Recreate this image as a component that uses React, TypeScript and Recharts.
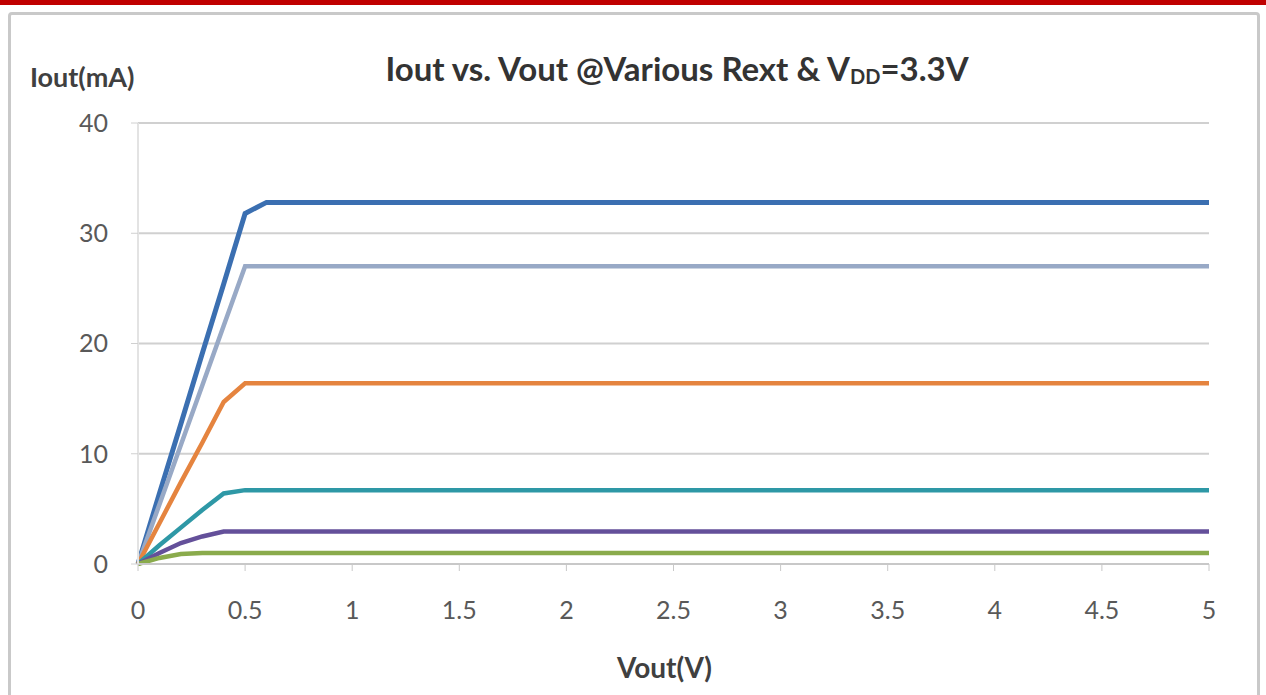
import { LineChart, Line, XAxis, YAxis, CartesianGrid } from 'recharts';

// Vout sample points (V)
const vout = [0, 0.1, 0.2, 0.3, 0.4, 0.5, 0.6, 1, 1.5, 2, 2.5, 3, 3.5, 4, 4.5, 5];

// Iout (mA) per Rext curve
const ioutA = [0, 6.4, 12.7, 19.1, 25.4, 31.8, 32.8, 32.8, 32.8, 32.8, 32.8, 32.8, 32.8, 32.8, 32.8, 32.8];
const ioutB = [0, 5.4, 10.8, 16.2, 21.6, 27.0, 27.0, 27.0, 27.0, 27.0, 27.0, 27.0, 27.0, 27.0, 27.0, 27.0];
const ioutC = [0, 3.7, 7.4, 11.0, 14.7, 16.4, 16.4, 16.4, 16.4, 16.4, 16.4, 16.4, 16.4, 16.4, 16.4, 16.4];
const ioutD = [0, 1.7, 3.3, 4.9, 6.4, 6.7, 6.7, 6.7, 6.7, 6.7, 6.7, 6.7, 6.7, 6.7, 6.7, 6.7];
const ioutE = [0, 1.0, 1.9, 2.5, 2.95, 2.95, 2.95, 2.95, 2.95, 2.95, 2.95, 2.95, 2.95, 2.95, 2.95, 2.95];
const ioutF = [0, 0.55, 0.9, 1.0, 1.0, 1.0, 1.0, 1.0, 1.0, 1.0, 1.0, 1.0, 1.0, 1.0, 1.0, 1.0];

const xTicks = [0, 0.5, 1, 1.5, 2, 2.5, 3, 3.5, 4, 4.5, 5];
const yTicks = [0, 10, 20, 30, 40];

const series = [
  { key: 'a', values: ioutA, color: '#3b6fb1', width: 5 },
  { key: 'b', values: ioutB, color: '#98a9c6', width: 4.5 },
  { key: 'c', values: ioutC, color: '#e5843f', width: 4.5 },
  { key: 'd', values: ioutD, color: '#2e98a6', width: 4.5 },
  { key: 'e', values: ioutE, color: '#64509a', width: 4.5 },
  { key: 'f', values: ioutF, color: '#8aab4c', width: 4.5 },
];

const data = vout.map((v, i) => {
  const row: Record<string, number> = { vout: v };
  series.forEach((s) => (row[s.key] = s.values[i]));
  return row;
});

const font = 'Lato, "Open Sans", sans-serif';
const tickStyle = { fill: '#595959', fontSize: 25, fontFamily: font };

export default function App() {
  return (
    <div style={{ position: 'absolute', left: 0, top: 0, width: 1266, height: 695, background: '#fff', overflow: 'hidden' }}>
      <div style={{ position: 'absolute', left: 0, top: 0, width: 1266, height: 5, background: '#c00000' }} />
      <div
        style={{
          position: 'absolute', left: 8, top: 12, width: 1252, height: 700,
          border: '3px solid #c9c9c9', borderRadius: 4, boxSizing: 'border-box',
        }}
      />
      <div
        style={{
          position: 'absolute', left: 0, width: 1354, top: 48, textAlign: 'center',
          fontFamily: font, fontWeight: 700, fontSize: 33, color: '#333',
        }}
      >
        Iout vs. Vout @Various Rext &amp; V<sub style={{ fontSize: 20, verticalAlign: 'baseline', position: 'relative', top: 3 }}>DD</sub>=3.3V
      </div>
      <div
        style={{
          position: 'absolute', left: 30, top: 60, fontFamily: font, fontWeight: 700,
          fontSize: 27, color: '#404040',
        }}
      >
        Iout(mA)
      </div>
      <div
        style={{
          position: 'absolute', left: 617, top: 650, fontFamily: font, fontWeight: 700,
          fontSize: 28, color: '#404040',
        }}
      >
        Vout(V)
      </div>
      <div style={{ position: 'absolute', left: 0, top: 0 }}>
        <LineChart width={1266} height={695} data={data} margin={{ top: 123, right: 57, bottom: 31, left: 78 }}>
          <CartesianGrid vertical={false} stroke="#d0d0d0" strokeWidth={2} />
          <XAxis
            dataKey="vout"
            type="number"
            domain={[0, 5]}
            ticks={xTicks}
            height={100}
            tick={tickStyle}
            tickSize={7}
            tickMargin={30}
            stroke="#c8c8c8"
            axisLine={{ stroke: '#c8c8c8', strokeWidth: 2 }}
          />
          <YAxis
            type="number"
            domain={[0, 40]}
            ticks={yTicks}
            width={60}
            tick={tickStyle}
            tickSize={7}
            tickMargin={23}
            stroke="#d0d0d0"
            axisLine={{ stroke: '#e3e3e3', strokeWidth: 2 }}
          />
          {series.map((s) => (
            <Line
              key={s.key}
              dataKey={s.key}
              type="linear"
              stroke={s.color}
              strokeWidth={s.width}
              dot={false}
              isAnimationActive={false}
            />
          ))}
        </LineChart>
      </div>
    </div>
  );
}
